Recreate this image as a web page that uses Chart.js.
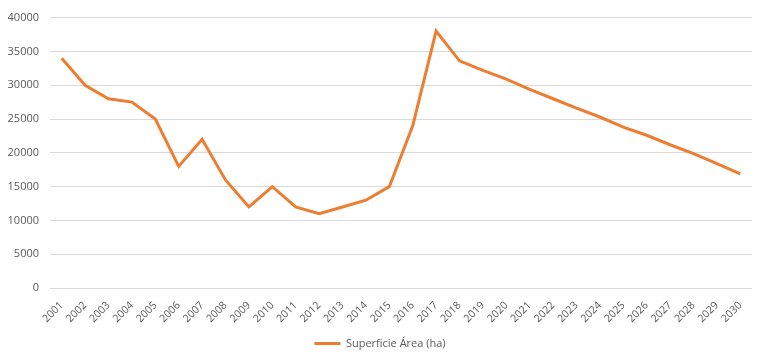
<!DOCTYPE html>
<html>
<head>
<meta charset="utf-8">
<script src="https://cdn.jsdelivr.net/npm/chart.js@4"></script>
<style>
  html, body { margin: 0; padding: 0; background: #fff; }
  #wrap { width: 765px; height: 362px; }
</style>
</head>
<body>
<div id="wrap"><canvas id="grafico"></canvas></div>
<script>
const years = [2001, 2002, 2003, 2004, 2005, 2006, 2007, 2008, 2009, 2010,
  2011, 2012, 2013, 2014, 2015, 2016, 2017, 2018, 2019, 2020,
  2021, 2022, 2023, 2024, 2025, 2026, 2027, 2028, 2029, 2030];
const superficie = [34000, 30000, 28000, 27500, 25000, 18000, 22000, 16000, 12000, 15000,
  12000, 11000, 12000, 13000, 15000, 24000, 38000, 33600, 32200, 30900,
  29400, 28000, 26600, 25300, 23800, 22600, 21200, 19900, 18400, 16900];
const yTicks = [0, 5000, 10000, 15000, 20000, 25000, 30000, 35000, 40000];

const grey = '#595959';
Chart.defaults.font.family = 'Open Sans, Liberation Sans, sans-serif';
Chart.defaults.font.size = 11;
Chart.defaults.color = grey;

new Chart(document.getElementById('grafico'), {
  type: 'line',
  data: {
    labels: years.map(String),
    datasets: [{
      label: 'Superficie Área (ha)',
      data: superficie,
      borderColor: '#ed7d31',
      backgroundColor: '#ed7d31',
      borderWidth: 3,
      pointRadius: 0,
      tension: 0
    }]
  },
  options: {
    responsive: true,
    maintainAspectRatio: false,
    animation: false,
    layout: { padding: { left: 8, right: 13, top: 1, bottom: 3 } },
    scales: {
      x: {
        offset: true,
        grid: { display: false },
        border: { display: false },
        ticks: { maxRotation: 45, minRotation: 45, autoSkip: false, color: grey, font: { size: 10.5 } }
      },
      y: {
        min: 0,
        max: 40000,
        afterBuildTicks: axis => { axis.ticks = yTicks.map(v => ({ value: v })); },
        afterFit: axis => { axis.width = 42; },
        grid: { color: '#d9d9d9', drawTicks: false },
        border: { display: false },
        ticks: { padding: 11, color: grey, callback: v => String(v) }
      }
    },
    plugins: {
      legend: {
        position: 'bottom',
        labels: {
          usePointStyle: true,
          pointStyle: 'line',
          pointStyleWidth: 26,
          color: grey,
          font: { size: 11 }
        }
      },
      tooltip: { enabled: false }
    }
  }
});
</script>
</body>
</html>
